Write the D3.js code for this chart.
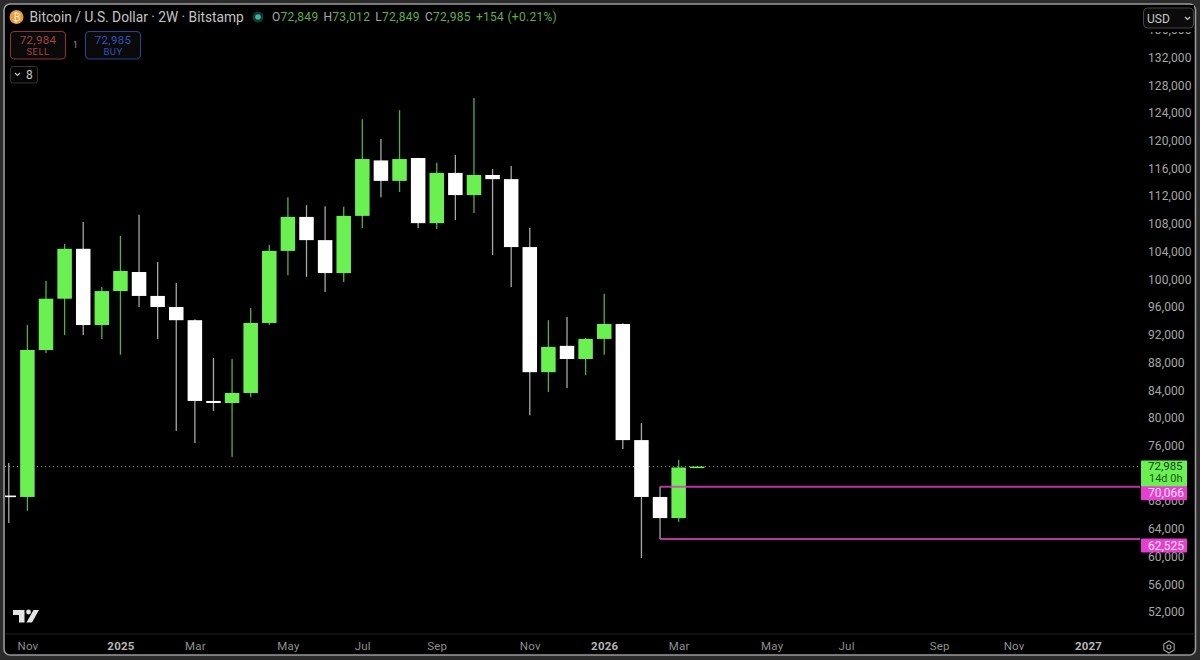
<!DOCTYPE html>
<html><head><meta charset="utf-8">
<script src="https://cdnjs.cloudflare.com/ajax/libs/d3/7.8.5/d3.min.js"></script>
<style>html,body{margin:0;padding:0;background:#2b2b2b;overflow:hidden}svg{display:block}text{font-family:Roboto,"Liberation Sans",sans-serif}</style>
</head><body><svg id="c" width="1200" height="660"></svg>
<script>
const opens  = [68800,68600,89800,97200,104400,93400,98300,101050,97600,96000,94100,82450,82150,83600,93700,104100,109000,105650,100900,109150,117150,114200,117500,108100,115350,112150,115050,114450,104650,86600,90400,88500,91400,93550,76800,68600,65550,72849];
const highs  = [73500,93400,99750,105100,108250,98900,106250,109300,102500,99450,94250,88650,88500,95850,104950,111850,110700,110550,110450,123100,120250,124400,117550,116800,117950,126150,115900,116350,107400,94100,94550,91550,97900,93650,79250,70066,73950,73012];
const lows   = [64850,66600,89350,91950,91950,91400,89100,96000,91400,78100,76400,81000,74350,83000,93400,100600,100350,98150,99600,107400,111850,112600,107400,107250,108550,109550,103500,98900,80400,83750,84300,86200,89100,75500,59800,62525,65000,72849];
const closes = [68600,89800,97200,104400,93400,98300,101200,97600,96000,94100,82450,82150,83600,93700,104100,109000,105650,100900,109150,117350,114200,117350,108100,115350,112150,115050,114450,104650,86600,90250,88500,91400,93550,76800,68600,65550,72849,72985];
const yTicks = [136000,132000,128000,124000,120000,116000,112000,108000,104000,100000,96000,92000,88000,84000,80000,76000,68000,64000,60000,56000,52000];
const xTickIndex  = [1,6,10,15,19,23,28,32,36,41,45,50,54,58];
const xTickLabels = ["Nov","2025","Mar","May","Jul","Sep","Nov","2026","Mar","May","Jul","Sep","Nov","2027"];
const boldLabels  = ["2025","2026","2027"];
const levelValues = [70066,62525];
const levelLabels = ["70,066","62,525"];
const lastPrice = 72985;
const lastLabel = "72,985";
const countdown = "14d 0h";
const legendParts = [["O","72,849"],["H","73,012"],["L","72,849"],["C","72,985"]];

const GREEN="#6bf052", WHITE="#ffffff", PINK="#d83fc0", PINKBG="#e63fd0";
const svg=d3.select("#c");
const y=d3.scaleLinear().domain([52000,132000]).range([612,57.5]);
const x=d3.scaleLinear().domain([1,58]).range([27.4,1088]);
const idx=d3.range(opens.length);

svg.append("rect").attr("x",4).attr("y",4).attr("width",1191.5).attr("height",651).attr("rx",6)
  .attr("fill","#000").attr("stroke","#9a9a9a").attr("stroke-width",1.6);
svg.append("line").attr("x1",5).attr("x2",1195).attr("y1",634).attr("y2",634).attr("stroke","#1e1e1e");
const defs=svg.append("defs");
defs.append("clipPath").attr("id","pl").append("rect").attr("x",5).attr("y",5).attr("width",1135).attr("height",629);

const plot=svg.append("g").attr("clip-path","url(#pl)");
plot.append("line").attr("x1",5).attr("x2",1140).attr("y1",y(lastPrice)).attr("y2",y(lastPrice))
  .attr("stroke","#8a8a8a").attr("stroke-width",1).attr("stroke-dasharray","1 3");
plot.selectAll("line.w").data(idx).join("line").attr("class","w")
  .attr("x1",i=>x(i)).attr("x2",i=>x(i)).attr("y1",i=>y(highs[i])).attr("y2",i=>y(lows[i]))
  .attr("stroke",i=>closes[i]>=opens[i]?"#56b044":"#a8a8a8").attr("stroke-width",1.3);
const bw=14.5;
plot.selectAll("rect.b").data(idx).join("rect").attr("class","b")
  .attr("x",i=>x(i)-bw/2).attr("width",bw)
  .attr("y",i=>y(Math.max(opens[i],closes[i])))
  .attr("height",i=>Math.max(1.6,Math.abs(y(opens[i])-y(closes[i]))))
  .attr("fill",i=>closes[i]>=opens[i]?GREEN:WHITE);
levelValues.forEach(v=>{
  plot.append("line").attr("x1",x(35)).attr("x2",1141).attr("y1",y(v)).attr("y2",y(v))
    .attr("stroke",PINK).attr("stroke-width",2).attr("stroke-opacity",.85);
});

// axes
const yAxis=d3.axisRight(y).tickValues(yTicks).tickSize(0).tickPadding(0).tickFormat(d3.format(","));
const yg=svg.append("g").attr("transform","translate(1148,0)").call(yAxis);
yg.select(".domain").remove();
yg.selectAll("text").attr("fill","#a6a6a6").attr("font-size",12).attr("letter-spacing",.1);
const xAxis=d3.axisBottom(x).tickValues(xTickIndex).tickSize(0).tickPadding(0).tickFormat((d,i)=>xTickLabels[i]);
const xg=svg.append("g").attr("transform","translate(0,642)").call(xAxis);
xg.select(".domain").remove();
xg.selectAll("text").attr("fill",(d,i)=>boldLabels.includes(xTickLabels[i])?"#b5b5b5":"#8f8f8f")
  .attr("font-weight",(d,i)=>boldLabels.includes(xTickLabels[i])?700:400).attr("font-size",11.5).attr("letter-spacing",.2);

// price tags
const tag=(yy,h,fill)=>svg.append("rect").attr("x",1141).attr("y",yy).attr("width",46).attr("height",h).attr("fill",fill).attr("rx",1);
const lab=(t,xx,yy,fill,size,extra)=>{const s=svg.append("text").attr("x",xx).attr("y",yy).attr("fill",fill).attr("font-size",size).attr("dominant-baseline","central").text(t);if(extra)extra(s);return s;};
tag(y(lastPrice)-6,26.5,GREEN);
lab(lastLabel,1148,y(lastPrice)-0.5,"#0c3d0c",11.5);
lab(countdown,1149,y(lastPrice)+12,"#1a5a1a",11);
levelValues.forEach((v,i)=>{tag(y(v)-0.5,14,PINKBG);lab(levelLabels[i],1148,y(v)+6.5,"#fbe3f8",12);});

// USD selector
svg.append("rect").attr("x",1143).attr("y",5).attr("width",51).attr("height",27).attr("fill","#000");
svg.append("rect").attr("x",1143.5).attr("y",8).attr("width",50).attr("height",20).attr("rx",4).attr("fill","#0b0b0b").attr("stroke","#444");
lab("USD",1147,18.5,"#c8c8c8",12);
svg.append("path").attr("d","M1185 17l2.5 2.5l2.5-2.5").attr("fill","none").attr("stroke","#ccc").attr("stroke-width",1.2);

// header
svg.append("circle").attr("cx",16.5).attr("cy",17).attr("r",7).attr("fill","#ee9a3a");
lab("₿",13.3,17,"#fff3e0",10,s=>s.attr("font-family","DejaVu Sans"));
lab("Bitcoin / U.S. Dollar · 2W · Bitstamp",29.5,17,"#c4c4c4",13.75);
svg.append("circle").attr("cx",258).attr("cy",17).attr("r",5.5).attr("fill","#0f3a33");
svg.append("circle").attr("cx",258).attr("cy",17).attr("r",2.8).attr("fill","#3fb59b");
const leg=svg.append("text").attr("x",272).attr("y",17).attr("dominant-baseline","central").attr("font-size",12).attr("letter-spacing",.3);
legendParts.forEach(([a,b],i)=>{
  leg.append("tspan").attr("fill","#a8a8a8").attr("dx",i?5:0).text(a);
  leg.append("tspan").attr("fill","#5fae4e").text(b);
});
leg.append("tspan").attr("fill","#5fae4e").attr("dx",5).text("+154 (+0.21%)");

// sell / buy
const btn=(xx,stroke,col,val,name)=>{
  svg.append("rect").attr("x",xx).attr("y",31.5).attr("width",55).attr("height",27.5).attr("rx",4).attr("fill","#0a0a0a").attr("stroke",stroke).attr("stroke-width",1.1);
  lab(val,xx+27.5,40,col,11.5,s=>s.attr("text-anchor","middle").attr("letter-spacing",.3));
  lab(name,xx+27.5,51,col,9.5,s=>s.attr("text-anchor","middle").attr("letter-spacing",.4));
};
btn(10.5,"#8c3238","#a8404a","72,984","SELL");
btn(85.5,"#2c4390","#3450b8","72,985","BUY");
lab("1",75.5,44.5,"#9a9a9a",8.5,s=>s.attr("text-anchor","middle"));
svg.append("rect").attr("x",10.5).attr("y",66.5).attr("width",27).attr("height",16.5).attr("rx",2.5).attr("fill","#050505").attr("stroke","#333");
svg.append("path").attr("d","M15 73l2.5 2.5l2.5-2.5").attr("fill","none").attr("stroke","#ccc").attr("stroke-width",1.1);
lab("8",26,75,"#c8c8c8",12);

// logo
svg.append("path").attr("fill","#e4e4e4").attr("d","M13 610H24.5V622.5H19V615H13Z M39 610L32 622.5H26.5L33.5 610Z");
svg.append("circle").attr("cx",28.5).attr("cy",612).attr("r",2.4).attr("fill","#e4e4e4");
// gear
const hex=d3.range(6).map(k=>{const a=Math.PI/3*k+Math.PI/6;return [1169+6*Math.cos(a),647+6*Math.sin(a)];});
svg.append("path").attr("d",d3.line()(hex)+"Z").attr("fill","none").attr("stroke","#a0a0a0").attr("stroke-width",1.1);
svg.append("circle").attr("cx",1169).attr("cy",647).attr("r",2).attr("fill","none").attr("stroke","#a0a0a0").attr("stroke-width",1.1);
</script></body></html>
